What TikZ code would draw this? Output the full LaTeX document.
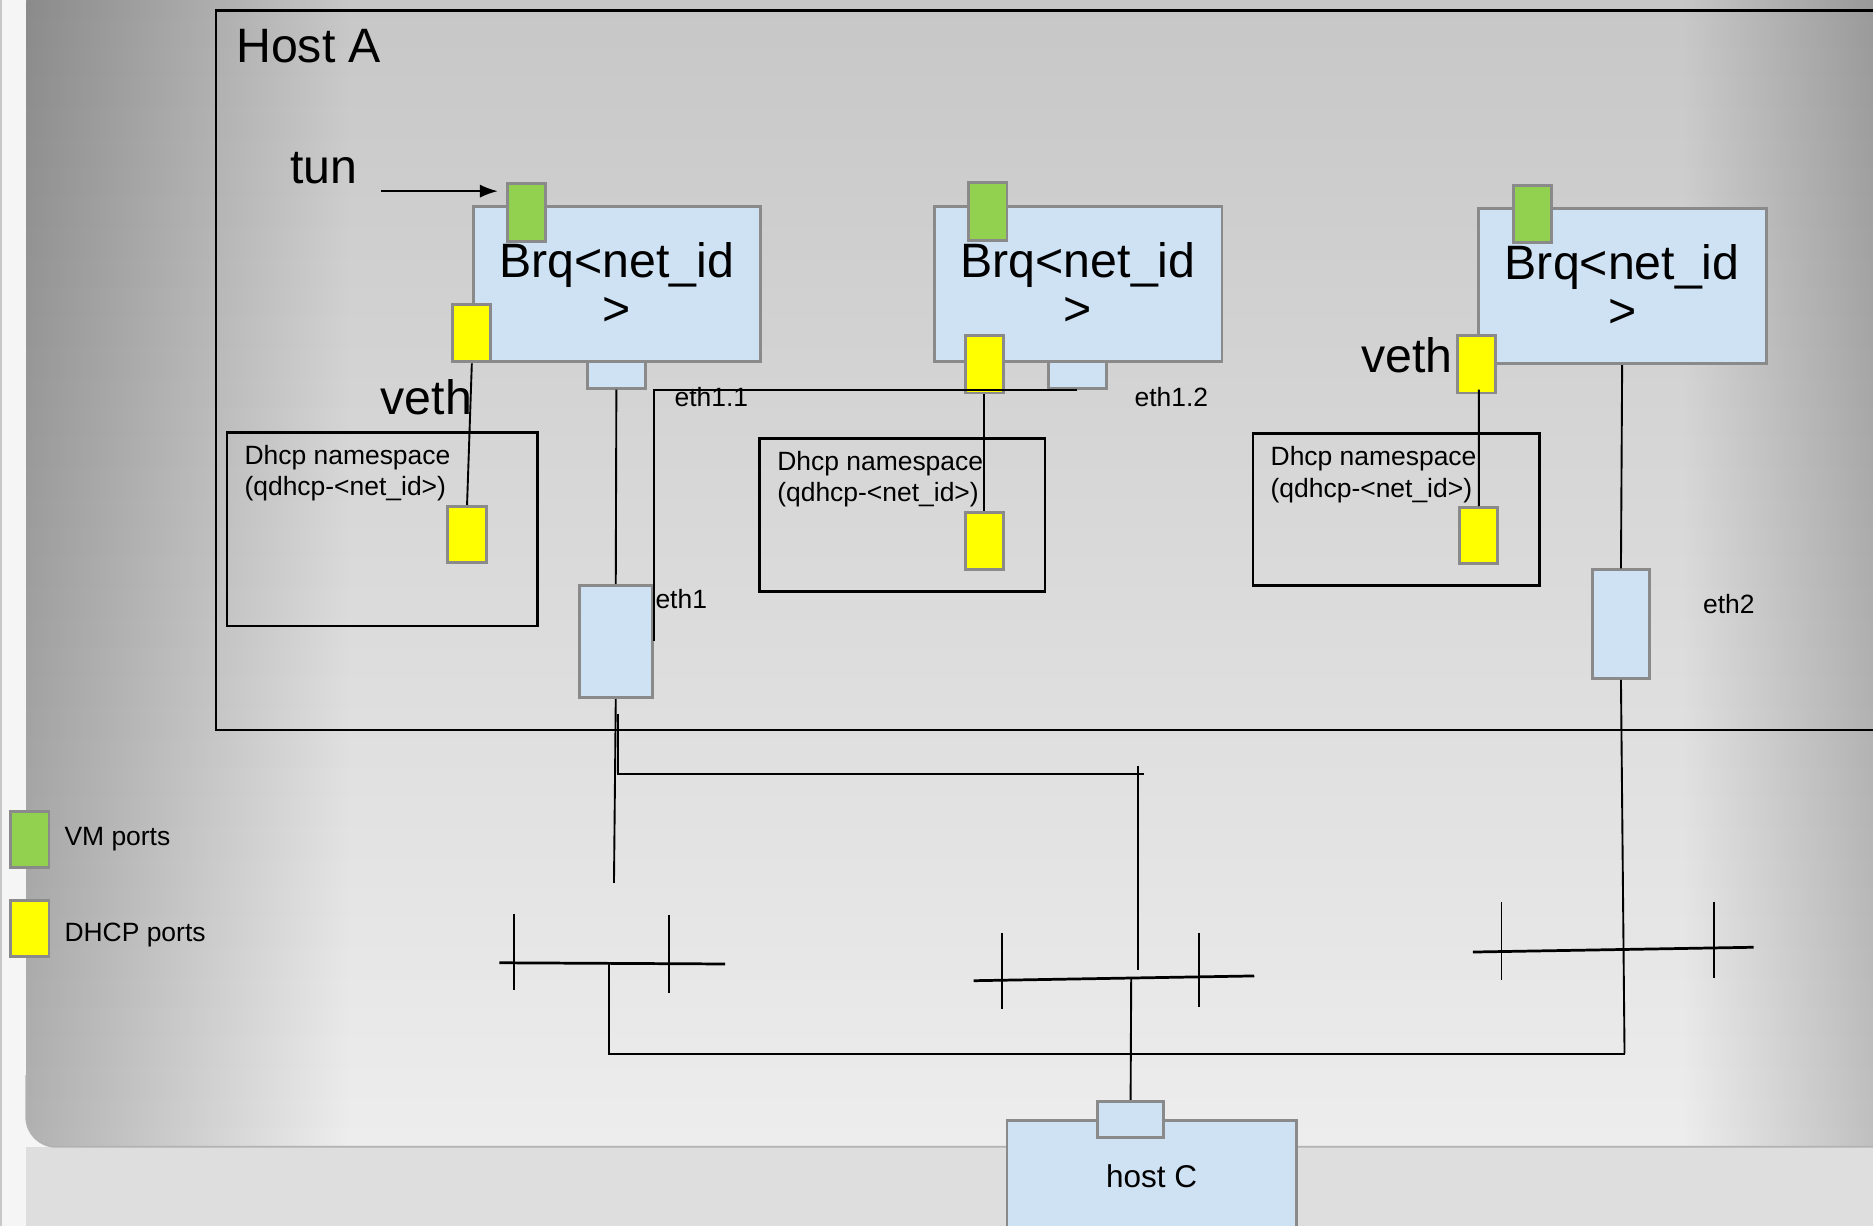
\documentclass[tikz,border=0pt]{standalone}
\usepackage{fontspec}
\setmainfont{Liberation Sans}
\usepackage{xcolor}
\usepackage{tikz}
\usetikzlibrary{positioning, arrows.meta}

\definecolor{brblue}{HTML}{CFE2F3}
\definecolor{vmgreen}{HTML}{92D050}
\definecolor{dhcpyellow}{HTML}{FFFF00}
\definecolor{edgegray}{HTML}{8A8A8A}

\begin{document}
\begin{tikzpicture}[x=0.1mm, y=-0.1mm, line width=0.45pt, >={Latex[length=1.5mm, width=1.1mm]},
        bigtxt/.style={font=\fontsize{11.5}{13}\selectfont, inner sep=0pt},
        smalltxt/.style={font=\fontsize{6.3}{7.5}\selectfont, inner sep=0pt},
        bridge/.style={draw=edgegray, fill=brblue, line width=0.7pt, minimum width=24.1mm, minimum height=13mm,
                inner sep=0pt, align=center, font=\fontsize{11.5}{11.4}\selectfont},
        port/.style={draw=edgegray, line width=0.7pt, minimum width=3.2mm, minimum height=4.8mm, inner sep=0pt},
        vmport/.style={port, fill=vmgreen},
        dhcpport/.style={port, fill=dhcpyellow},
        ifbox/.style={draw=edgegray, fill=brblue, line width=0.7pt, inner sep=0pt},
        nsbox/.style={draw, line width=0.6pt, inner sep=0pt,
                label={[smalltxt, anchor=north west, align=left, xshift=1.5mm, yshift=-1.1mm]north west:Dhcp namespace\\(qdhcp-<net\_id>)}},
        bus/.style={line width=0.65pt}]
        \useasboundingbox (0,0) rectangle (1568,1026);

        % slide
        \fill[black!4] (0,0) rectangle (1568,1026);
        \fill[black!13] (22,960) rectangle (1568,1026);
        \draw[black!22] (1,0) -- (1,1026);
        \begin{scope}
                \clip (1580,-10) -- (22,-10) [rounded corners=2.5mm] -- (22,960) [sharp corners] -- (1580,960) -- cycle;
                \shade[top color=black!22, bottom color=black!7] (22,0) rectangle (1568,960);
                \foreach \i in {1,...,60}
                        \fill[black, opacity=0.004] (22,0) rectangle (22+\i*4.5,960);
                \foreach \i in {1,...,45}
                        \fill[black, opacity=0.0042] (1568-\i*3.5,0) rectangle (1568,960);
        \end{scope}
        \draw[black!30] (22,900) [rounded corners=2.5mm] -- (22,960) -- (1568,960);

        % host A
        \draw[line width=0.6pt] (181,9) rectangle (1580,611);
        \node[bigtxt, anchor=base west] (hosta) at (197,52) {Host A};

        \node[bridge] (br1) at (516.5,238) {Brq<net\_id\\>};
        \node[bridge] (br2) at (902.5,237.5) {Brq<net\_id\\>};
        \node[bridge] (br3) at (1358,239.5) {Brq<net\_id\\>};

        \node[vmport] (g1) at (441,178) {};
        \node[vmport] (g2) at (827,177) {};
        \node[vmport] (g3) at (1283,179) {};

        \node[dhcpport] (y1) at (395,279) {};
        \node[dhcpport] (y2) at (824,305) {};
        \node[dhcpport] (y3) at (1236,305) {};

        \node[ifbox, minimum width=4.8mm, minimum height=2.2mm] (e11) at (516,314) {};
        \node[ifbox, minimum width=4.8mm, minimum height=2.2mm] (e12) at (902,314) {};

        \node[nsbox, minimum width=26mm, minimum height=16.2mm] (ns1) at (320,443) {};
        \node[nsbox, minimum width=23.9mm, minimum height=12.8mm] (ns2) at (755.5,431) {};
        \node[nsbox, minimum width=24mm, minimum height=12.7mm] (ns3) at (1169,426.5) {};

        \node[dhcpport, minimum height=4.7mm] (d1) at (391,447.5) {};
        \node[dhcpport] (d2) at (824,453) {};
        \node[dhcpport, minimum height=4.7mm] (d3) at (1238,448.5) {};

        \node[ifbox, minimum width=6.1mm, minimum height=9.4mm] (eth1) at (515.5,537) {};
        \node[ifbox, minimum width=4.8mm, minimum height=9.1mm] (eth2) at (1357,522.5) {};

        \node[bigtxt, anchor=base west] (tun) at (242,154) {tun};
        \node[bigtxt, anchor=base west] (veth1) at (318,347) {veth};
        \node[bigtxt, anchor=base west] (veth3) at (1139,312) {veth};
        \node[smalltxt, anchor=base west] (lbl11) at (564,340) {eth1.1};
        \node[smalltxt, anchor=base west] (lbl12) at (949,340) {eth1.2};
        \node[smalltxt, anchor=base west] (lbleth1) at (548,509) {eth1};
        \node[smalltxt, anchor=base west] (lbleth2) at (1425,514) {eth2};

        % host C
        \node[ifbox, minimum width=24.2mm, minimum height=9.4mm, font=\fontsize{7.5}{9}\selectfont] (hostc) at (964,985) {host C};
        \node[ifbox, minimum width=5.5mm, minimum height=3mm] (hcport) at (946.5,937) {};

        % legend
        \node[vmport, minimum height=4.7mm] (legvm) at (25,702.5) {};
        \node[dhcpport, minimum height=4.7mm] (legdhcp) at (25,777.5) {};
        \node[smalltxt, right=1.1mm of legvm] (legvmtxt) {VM ports};
        \node[smalltxt, right=1.1mm of legdhcp, yshift=-0.5mm] (legdhcptxt) {DHCP ports};

        \coordinate (tunfrom) at (319,160);
        \coordinate (drop1) at (514,739);
        \coordinate (tap1) at (517,598);
        \coordinate (hop1) at (958,648);
        \coordinate (hop2) at (953,641);
        \coordinate (hop3) at (953,812);
        \coordinate (tapL) at (510,806);
        \coordinate (loopR) at (1360,882);
        \coordinate (tap2) at (947,819);

        \draw[->, shorten >=0.7mm] (tunfrom) -- (tunfrom -| g1.west);
        \draw (y1.south) -- (d1.north);
        \draw (y2.south) -- (d2.north);
        \draw ([xshift=0.2mm, yshift=0.4mm]y3.south) -- (d3.north);
        \draw (e11.south) -- (eth1.north);
        \draw (e12.south) -| (eth1.east);
        \draw (br3.south) -- (eth2.north);
        \draw (eth1.south) -- (drop1);
        \draw (tap1) |- (hop1);
        \draw (hop2) -- (hop3);
        \draw (tapL) |- (loopR);
        \draw (eth2.south) -- (loopR);
        \draw (tap2) -- (hcport.north);

        % switches
        \draw[bus] (418,806) -- (607,807);
        \draw (430,765) -- (430,829) (560,766) -- (560,831);
        \draw[bus] (815,821) -- (1050,817);
        \draw (839,781) -- (839,845) (1004,781) -- (1004,843);
        \draw[bus] (1233,797) -- (1468,793);
        \draw (1257,755) -- (1257,820) (1435,755) -- (1435,819);
\end{tikzpicture}
\end{document}
